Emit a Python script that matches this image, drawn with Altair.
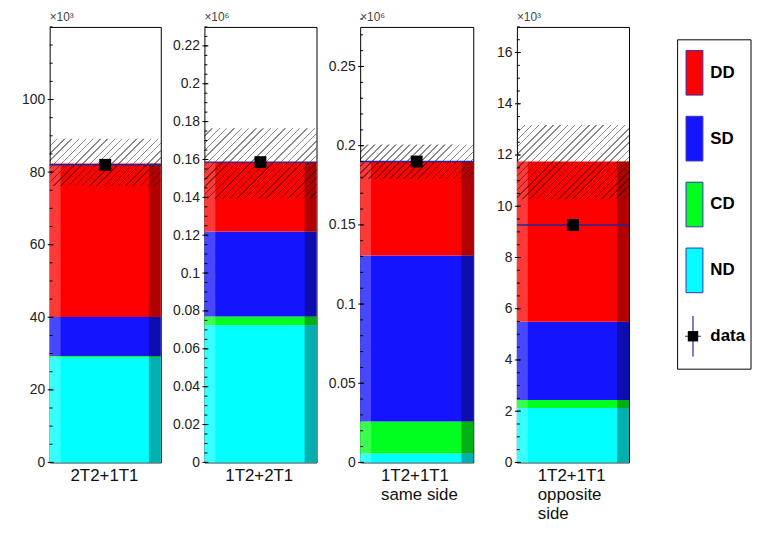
import altair as alt
import pandas as pd
import numpy as np

FONT = "Liberation Sans"

# ---- data ----
components = ["ND", "CD", "SD", "DD"]
comp_colors = ["#00FFFF", "#00FF1E", "#1414FF", "#FF0000"]

panel_names = [["2T2+1T1"], ["1T2+2T1"], ["1T2+1T1", "same side"], ["1T2+1T1", "opposite", "side"]]
scale_labels = ["×10³", "×10⁶", "×10⁶", "×10³"]
y_max = [120, 0.23, 0.275, 17]

nd_vals = [29.0, 0.0724, 0.0056, 2.12]
cd_vals = [0.3, 0.0047, 0.0202, 0.32]
sd_vals = [10.8, 0.0449, 0.1048, 3.05]
dd_vals = [42.3, 0.0367, 0.0594, 6.26]
data_vals = [82.0, 0.1586, 0.190, 9.27]
band_lo = [76.2, 0.1394, 0.179, 10.27]
band_hi = [89.2, 0.1765, 0.2008, 13.17]

major_ticks = [
    [0, 20, 40, 60, 80, 100],
    [0, 0.02, 0.04, 0.06, 0.08, 0.1, 0.12, 0.14, 0.16, 0.18, 0.2, 0.22],
    [0, 0.05, 0.1, 0.15, 0.2, 0.25],
    [0, 2, 4, 6, 8, 10, 12, 14, 16],
]
minor_step = [5, 0.005, 0.01, 0.5]

legend_labels = ["DD", "SD", "CD", "ND", "data"]
legend_colors = ["#FF0000", "#1414FF", "#00FF1E", "#00FFFF", "#000000"]

# ---- style ----
widths = [112, 113, 114, 113]
H = 439


def hatch_gradient(W, Hh, period=5.0, lw=1.0, color="rgba(0,0,0,0.45)"):
    k = (1 / Hh + 1 / W) / (1 / Hh ** 2 + 1 / W ** 2)
    x2 = k / Hh
    y2 = k / W
    L = (W + Hh) / np.sqrt(2)
    n = int(L / period)
    clear = "rgba(0,0,0,0)"
    stops = [{"offset": 0, "color": clear}]
    for j in range(1, n):
        a = round(j / n, 5)
        b = round(a + lw / L, 5)
        stops += [
            {"offset": a, "color": clear},
            {"offset": a, "color": color},
            {"offset": b, "color": color},
            {"offset": b, "color": clear},
        ]
    stops.append({"offset": 1, "color": clear})
    return {"gradient": "linear", "x1": 0, "y1": 0, "x2": float(x2), "y2": float(y2), "stops": stops}


def panel(i):
    W = widths[i]
    vals = [nd_vals[i], cd_vals[i], sd_vals[i], dd_vals[i]]
    cum = np.cumsum([0.0] + vals)
    seg = pd.DataFrame({"comp": components, "y0": cum[:-1], "y1": cum[1:]})
    total = pd.DataFrame({"lo": [0.0], "hi": [cum[-1]]})
    band = pd.DataFrame({"lo": [band_lo[i]], "hi": [band_hi[i]]})
    dat = pd.DataFrame({"v": [data_vals[i]]})
    majors = pd.DataFrame({"t": major_ticks[i]})
    n_minor = int(round(y_max[i] / minor_step[i]))
    minors = pd.DataFrame({"t": [round(j * minor_step[i], 6) for j in range(n_minor + 1)]})
    one = pd.DataFrame({"s": [0]})

    ys = alt.Scale(domain=[0, y_max[i]], nice=False, zero=True)
    axis = alt.Axis(values=major_ticks[i], labelExpr="'' + datum.value", ticks=False, domain=False,
                    grid=False, labelPadding=5, labelFontSize=14, labelFont=FONT, labelColor="#222",
                    minExtent=35, maxExtent=35, title=None)

    def Y(f):
        return alt.Y(f, scale=ys, axis=axis)

    bars = alt.Chart(seg).mark_rect().encode(
        x=alt.value(0), x2=alt.value(W),
        y=Y("y0:Q"), y2="y1:Q",
        fill=alt.Fill("comp:N", scale=alt.Scale(domain=components, range=comp_colors), legend=None),
    )
    lstrip = alt.Chart(total).mark_rect(fill="white", opacity=0.22).encode(
        x=alt.value(0), x2=alt.value(11), y=Y("lo:Q"), y2="hi:Q")
    rstrip = alt.Chart(total).mark_rect(fill="black", opacity=0.31).encode(
        x=alt.value(W - 12), x2=alt.value(W), y=Y("lo:Q"), y2="hi:Q")
    Hh = (band_hi[i] - band_lo[i]) / y_max[i] * H
    hatch = alt.Chart(band).mark_rect(fill=hatch_gradient(W, Hh)).encode(
        x=alt.value(0), x2=alt.value(W), y=Y("lo:Q"), y2="hi:Q")
    rule = alt.Chart(dat).mark_rule(color="#24249c", strokeWidth=1.5).encode(
        y=Y("v:Q"), x=alt.value(0), x2=alt.value(W))
    sq = alt.Chart(dat).mark_square(size=144, color="black", opacity=1, filled=True).encode(
        y=Y("v:Q"), x=alt.value(W / 2))
    mt = alt.Chart(majors).mark_rule(color="black", strokeWidth=1).encode(
        y=Y("t:Q"), x=alt.value(-2), x2=alt.value(4))
    nt = alt.Chart(minors).mark_rule(color="black", strokeWidth=1).encode(
        y=Y("t:Q"), x=alt.value(0), x2=alt.value(3))
    top = alt.Chart(one).mark_text(text=scale_labels[i], align="left", baseline="middle",
                                   fontSize=12, font=FONT, color="#444").encode(
        x=alt.value(0), y=alt.value(-10))
    xl = alt.Chart(one).mark_text(text=panel_names[i], align="left", baseline="top",
                                  fontSize=17, lineHeight=19, font=FONT, color="#111").encode(
        x=alt.value(21), y=alt.value(H + 6))
    return alt.layer(bars, lstrip, rstrip, hatch, rule, sq, mt, nt, top, xl).properties(width=W, height=H)


# ---- legend panel ----
LW = 115
ly = alt.Scale(domain=legend_labels, range=[13, 345], padding=0.5)
leg_df = pd.DataFrame({"lab": legend_labels, "col": legend_colors})
sw_df = leg_df[leg_df.lab != "data"]
dt_df = leg_df[leg_df.lab == "data"]
one = pd.DataFrame({"s": [0]})

box = alt.Chart(one).mark_rect(fill="white", stroke="black", strokeWidth=1).encode(
    x=alt.value(40), x2=alt.value(114), y=alt.value(13), y2=alt.value(345))
swatch = alt.Chart(sw_df).mark_point(
    shape="M-0.378,-1L0.378,-1L0.378,1L-0.378,1Z", size=2025, filled=True, opacity=1,
    stroke="#3434b4", strokeWidth=1).encode(
    x=alt.value(57), y=alt.Y("lab:N", scale=ly, axis=None),
    fill=alt.Fill("lab:N", scale=alt.Scale(domain=legend_labels, range=legend_colors), legend=None))
cross = alt.Chart(dt_df).mark_point(
    shape="M0,-1L0,1M-0.39,0L0.39,0", size=1681, filled=False, opacity=1,
    color="#2a2aa0", strokeWidth=1.2).encode(
    x=alt.value(55.5), y=alt.Y("lab:N", scale=ly, axis=None))
dsq = alt.Chart(dt_df).mark_square(size=110, color="black", filled=True, opacity=1).encode(
    x=alt.value(55.5), y=alt.Y("lab:N", scale=ly, axis=None))
ltext = alt.Chart(leg_df).mark_text(align="left", baseline="middle", fontSize=17,
                                    fontWeight="bold", font=FONT, color="black").encode(
    x=alt.value(73), y=alt.Y("lab:N", scale=ly, axis=None), text="lab:N")
legend = alt.layer(box, swatch, cross, dsq, ltext).properties(
    width=LW, height=H, view=alt.ViewBackground(stroke="transparent"))

chart = alt.hconcat(*[panel(i) for i in range(4)], legend, spacing=6).properties(
    padding={"left": 6, "top": 0, "right": 0, "bottom": 0}
).configure_view(stroke="black", strokeWidth=1)

chart.save("out.html", embed_options={"renderer": "svg", "actions": False})
